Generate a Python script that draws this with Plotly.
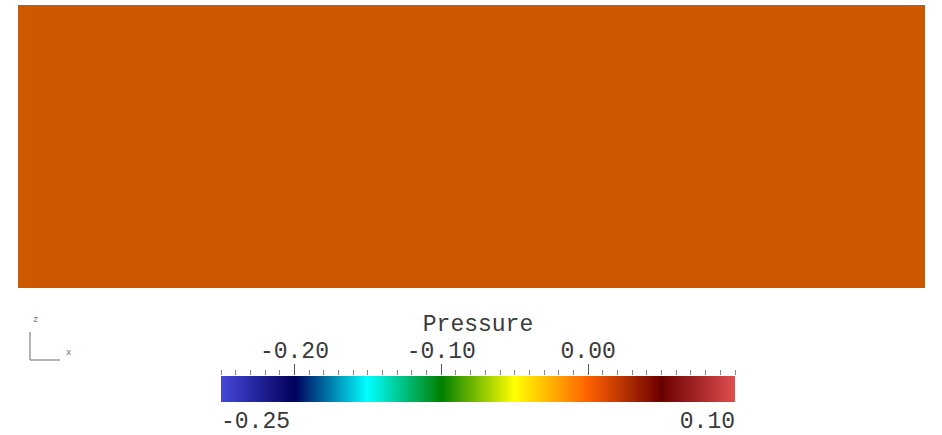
import plotly.graph_objects as go

# ---- data ----
# Pressure field (nearly uniform value over the domain)
PRESSURE = [
    [-0.005, -0.005, -0.005, -0.005],
    [-0.005, -0.005, -0.005, -0.005],
    [-0.005, -0.005, -0.005, -0.005],
]
X_COORDS = [0.0, 1.0, 2.0, 3.0]
Y_COORDS = [0.0, 0.5, 1.0]

P_MIN = -0.25
P_MAX = 0.10
MAJOR_TICKS = [-0.20, -0.10, 0.00]
MAJOR_LABELS = ["-0.20", "-0.10", "0.00"]
RANGE_LABELS = ["-0.25", "0.10"]
TITLE = "Pressure"

# ParaView "Rainbow Desaturated" colour map
CSCALE = [
    [0.000, "rgb(71,71,219)"],
    [0.143, "rgb(0,0,91)"],
    [0.285, "rgb(0,255,255)"],
    [0.429, "rgb(0,128,0)"],
    [0.571, "rgb(255,255,0)"],
    [0.714, "rgb(255,97,0)"],
    [0.857, "rgb(107,0,0)"],
    [1.000, "rgb(224,77,77)"],
]

W, H = 942, 435
# pixel geometry
FX0, FX1, FY0, FY1 = 18, 925, 5, 288
CBX0, CBX1, CBY0, CBY1 = 221, 735, 376, 402


def px(x):
    return x / W


def py(y):
    return 1 - y / H


FONT = dict(family="Liberation Mono, Courier New, monospace", size=23, color="#3a3a3a")

fig = go.Figure()

# dark underlay to mimic surface shading of the rendered field
fig.add_shape(type="rect", xref="x domain", yref="y domain", x0=0, x1=1, y0=0, y1=1,
              fillcolor="black", line=dict(width=0), layer="below")

fig.add_trace(go.Heatmap(
    z=PRESSURE, x=X_COORDS, y=Y_COORDS,
    zmin=P_MIN, zmax=P_MAX, colorscale=CSCALE,
    xaxis="x", yaxis="y", opacity=0.8,
    hoverinfo="z",
    colorbar=dict(
        orientation="h",
        x=px(CBX0), xanchor="left",
        y=py(CBY0), yanchor="top",
        len=CBX1 - CBX0, lenmode="pixels",
        thickness=CBY1 - CBY0, thicknessmode="pixels",
        xpad=0, ypad=0, outlinewidth=0,
        ticks="", showticklabels=False,
    ),
))

# invisible helper traces so the overlay axes exist
fig.add_trace(go.Scatter(x=[P_MIN, P_MAX], y=[0, 1], xaxis="x2", yaxis="y2",
                         mode="markers", marker=dict(opacity=0), hoverinfo="skip",
                         showlegend=False))
fig.add_trace(go.Scatter(x=[P_MIN], y=[0], xaxis="x3", yaxis="y2",
                         mode="markers", marker=dict(opacity=0), hoverinfo="skip",
                         showlegend=False))
fig.add_trace(go.Scatter(x=[P_MAX], y=[0], xaxis="x4", yaxis="y2",
                         mode="markers", marker=dict(opacity=0), hoverinfo="skip",
                         showlegend=False))

axis_common = dict(range=[P_MIN, P_MAX], domain=[px(CBX0), px(CBX1)],
                   showgrid=False, zeroline=False, showline=False, fixedrange=True)

fig.update_layout(
    width=W, height=H,
    margin=dict(l=0, r=0, t=0, b=0),
    paper_bgcolor="white", plot_bgcolor="white",
    showlegend=False,
    xaxis=dict(domain=[px(FX0), px(FX1)], range=[X_COORDS[0] - 0.5, X_COORDS[-1] + 0.5],
               visible=False, showgrid=False, zeroline=False),
    yaxis=dict(domain=[py(FY1), py(FY0)], range=[Y_COORDS[0] - 0.25, Y_COORDS[-1] + 0.25],
               visible=False, showgrid=False, zeroline=False),
    yaxis2=dict(domain=[py(CBY1), py(CBY0)], range=[0, 1], visible=False,
                anchor="x2", fixedrange=True),
    xaxis2=dict(**axis_common, anchor="y2", side="top",
                tickmode="array", tickvals=MAJOR_TICKS, ticktext=MAJOR_LABELS,
                ticks="outside", ticklen=11, tickwidth=1, tickcolor="#555555",
                tickfont=FONT, ticklabelstandoff=-3,
                minor=dict(dtick=0.01, tick0=0, ticks="outside", ticklen=5,
                           tickcolor="#888888", tickwidth=1, showgrid=False),
                title=dict(text=TITLE, font=FONT, standoff=0)),
    xaxis3=dict(**axis_common, anchor="y2", side="bottom", overlaying="x2",
                tickmode="array", tickvals=[P_MIN], ticktext=[RANGE_LABELS[0]],
                ticks="", tickfont=FONT, ticklabelposition="outside right",
                ticklabelstandoff=2),
    xaxis4=dict(**axis_common, anchor="y2", side="bottom", overlaying="x2",
                tickmode="array", tickvals=[P_MAX], ticktext=[RANGE_LABELS[1]],
                ticks="", tickfont=FONT, ticklabelposition="outside left",
                ticklabelstandoff=2),
)

# orientation triad (decorative)
fig.add_shape(type="line", xref="paper", yref="paper",
              x0=px(30), y0=py(332), x1=px(30), y1=py(360),
              line=dict(color="#9a9a9a", width=1.5))
fig.add_shape(type="line", xref="paper", yref="paper",
              x0=px(30), y0=py(360), x1=px(60), y1=py(360),
              line=dict(color="#9a9a9a", width=1.5))
fig.add_annotation(x=px(31), y=py(327), xref="paper", yref="paper", text="z",
                   showarrow=False, font=dict(family="Liberation Mono", size=9, color="#666"))
fig.add_annotation(x=px(64), y=py(360), xref="paper", yref="paper", text="x",
                   showarrow=False, font=dict(family="Liberation Mono", size=9, color="#666"))

fig.write_html("out.html", config={"displayModeBar": False},
               post_script="document.body.style.margin='0px';")
